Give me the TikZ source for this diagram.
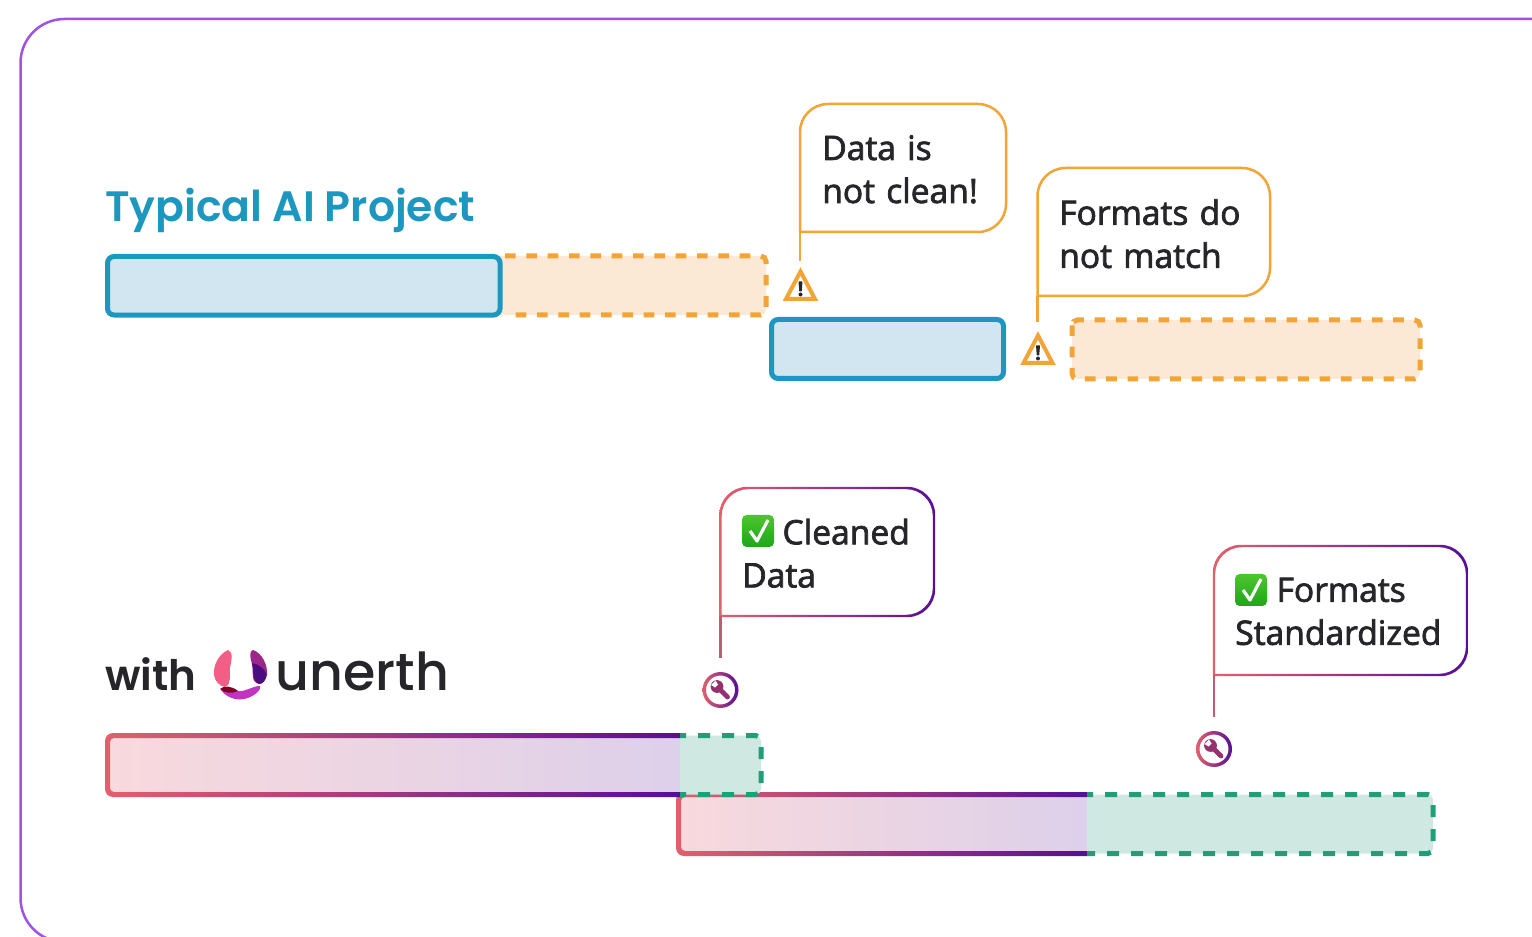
\documentclass[tikz,border=0pt]{standalone}
\usepackage{fontspec}
\setmainfont{Open Sans}[FakeBold=2.2]
\IfFontExistsTF{Poppins SemiBold}{\newfontfamily\titlefont{Poppins SemiBold}}{\newfontfamily\titlefont{Poppins}[UprightFont=*,FakeBold=1]}
\IfFontExistsTF{Poppins Medium}{\newfontfamily\logofont{Poppins Medium}}{\newfontfamily\logofont{Poppins}[FakeBold=0.5]}
\usetikzlibrary{calc}
\definecolor{cblue}{HTML}{1D97BF}
\definecolor{cbluef}{HTML}{D1E6F0}
\definecolor{corange}{HTML}{F2A437}
\definecolor{corangef}{HTML}{FBE9D5}
\definecolor{cgreen}{HTML}{1F9E78}
\definecolor{cgreenf}{HTML}{CFE8E1}
\definecolor{cred}{HTML}{E2606C}
\definecolor{cpurple}{HTML}{560F96}
\definecolor{cpinkf}{HTML}{F8D9DD}
\definecolor{clavf}{HTML}{DDD0EA}
\definecolor{cink}{HTML}{26262A}
\definecolor{cframe}{HTML}{A052E2}
\definecolor{cwrench}{HTML}{96306E}
\definecolor{cstem}{HTML}{C25A72}
\definecolor{ccheckt}{HTML}{4CC62E}
\definecolor{ccheckb}{HTML}{1FA51C}
\tikzset{
  px/.style={line width=#1*0.75pt},
  bluebar/.style={draw=cblue,fill=cbluef,px=5,rounded corners=5pt,inner sep=0pt,outer sep=0pt,anchor=north west},
  orangedash/.style={draw=corange,px=5,dash pattern=on 8pt off 8pt,rounded corners=4pt},
  greendash/.style={draw=cgreen,px=5,dash pattern=on 9pt off 9pt,dash phase=4.5pt,rounded corners=4pt},
  calloutbox/.style={anchor=north west,inner sep=0pt,text width=#1,align=left,font=\fontsize{25.2}{32.3}\selectfont,text=cink},
  stemor/.style={draw=corange,px=2.5},
  stemgr/.style={draw=cstem,px=2.5},
  ringshade/.style={left color=cred,right color=cpurple,even odd rule,draw=none},
  wrenchnode/.style={circle,inner sep=0pt,minimum size=24pt},
}
\newcommand\warnicon[2]{%
  \draw[draw=corange,px=4,line join=miter,fill=white] (#1,#2-16.5) -- (#1+14.5,#2+11) -- (#1-14.5,#2+11) -- cycle;
  \fill[cink,rounded corners=0.3pt] (#1-2,#2-6.5) -- (#1+2,#2-6.5) -- (#1+1.2,#2+3.5) -- (#1-1.2,#2+3.5) -- cycle;
  \fill[cink] (#1,#2+6.5) circle (2*0.75pt);
}
\newcommand\wrenchicon[2]{%
  \shade[ringshade] (#1,#2) circle (18*0.75pt) (#1,#2) circle (14.5*0.75pt);
  \begin{scope}[shift={(#1,#2)}]
    \draw[cwrench,line width=3.6pt,line cap=round] (-2.5,-2.5) -- (7,7);
    \fill[cwrench] (-3.5,-3.5) circle (4.8pt);
    \fill[white] (-9.5,-5) -- (-5.5,-2.5) -- (-2.5,-5.5) -- (-5,-9.5) -- cycle;
  \end{scope}
}
\newcommand\checkicon[2]{%
  \shade[top color=ccheckt,bottom color=ccheckb,rounded corners=3.5pt] (#1,#2) rectangle (#1+32,#2+32);
  \draw[white,px=3.2,line join=round] (#1+8,#2+16) -- (#1+15,#2+26) -- (#1+26,#2+5);
}
\newcommand\gradcallout[4]{%
  \shade[ringshade]
    [rounded corners=21pt] (#1-1.2,#4+1.2) -- (#1-1.2,#2-1.2) -- (#3+1.2,#2-1.2) -- (#3+1.2,#4+1.2) -- (#1-1.2,#4+1.2)
    [rounded corners=20pt] (#1+1.2,#4-1.2) -- (#1+1.2,#2+1.2) -- (#3-1.2,#2+1.2) -- (#3-1.2,#4-1.2) -- (#1+1.2,#4-1.2);
}
\newcommand\gradbar[4]{%
  \shade[left color=cpinkf,right color=clavf,rounded corners=3pt] (#3,#2-1) -- (#1-1,#2-1) -- (#1-1,#4+1) -- (#3,#4+1);
  \shade[ringshade]
    [rounded corners=6pt] (#3,#2-5) -- (#1-5,#2-5) -- (#1-5,#4+5) -- (#3,#4+5)
    [rounded corners=3pt] (#3,#4) -- (#1,#4) -- (#1,#2) -- (#3,#2);
}
\begin{document}
\begin{tikzpicture}[x=0.75pt,y=-0.75pt]
\useasboundingbox (0,0) rectangle (1532,937);
\fill[white] (0,0) rectangle (1532,937);
\draw[cframe,px=2.5,rounded corners=33pt] (1532,19) -- (20.5,19) -- (20.5,942) -- (1532,942);

\node[anchor=base west,inner sep=0pt,text=cblue,font=\titlefont\fontsize{31.9}{36}\selectfont] (title) at (105,221.5) {Typical AI Project};
\fill[corangef,rounded corners=4pt] (500,256) -- (766,256) -- (766,315) -- (500,315);
\draw[orangedash] (505,256) -- (766,256) -- (766,315) -- (505,315);
\node[bluebar,minimum width=294.4pt,minimum height=43.9pt] (b1) at (107.5,256.5) {};
\fill[corangef,rounded corners=5pt] (1072,320) rectangle (1420,379);
\draw[orangedash] (1072,320) rectangle (1420,379);
\node[bluebar,minimum width=174pt,minimum height=44.25pt] (b2) at (771.5,319.5) {};

\node[calloutbox=150pt] (c1) at (822,135) {Data is\\not clean!};
\node[calloutbox=170pt] (c2) at (1059,199) {Formats do\\not match};
\coordinate (c1sw) at (800,232);
\coordinate (c2sw) at (1037.5,296);
\coordinate (w1) at (800,268);
\coordinate (w2) at (1037.5,328.5);
\draw[stemor,rounded corners=21pt] (c1sw) -- (800,104) -- (1006,104) -- (1006,232) -- (c1sw);
\draw[stemor,rounded corners=21pt] (c2sw) -- (1037.5,168) -- (1270,168) -- (1270,296) -- (c2sw);
\draw[stemor,shorten >=5pt] (c1sw) -- (w1);
\draw[stemor,shorten >=5pt] (c2sw) -- (w2);
\warnicon{800.5}{288}
\warnicon{1038}{352}

\node[anchor=base west,inner sep=0pt,text=cink,font=\titlefont\fontsize{31.5}{36}\selectfont] (with) at (105,690) {with};
\node[anchor=base west,inner sep=0pt,text=cink,font=\logofont\fontsize{39.2}{42}\selectfont] (unerth) at (275.5,690) {unerth};
\fill[magenta!55!red!65!white] (228,650) .. controls (219,654) and (213,665) .. (214,675) .. controls (215,682) and (220,686) .. (225,687) .. controls (232,684) and (229,676) .. (230,668) .. controls (231,662) and (234,652) .. (228,650) -- cycle;
\fill[violet!80!purple!85!white] (253,650) .. controls (262,653) and (268,665) .. (267,675) .. controls (266,680) and (263,684) .. (259,684) .. controls (250,682) and (254,672) .. (252,664) .. controls (250,658) and (249,651) .. (253,650) -- cycle;
\fill[cpurple!85!black] (252,663) .. controls (258,664) and (264,668) .. (266.5,674) .. controls (266,680) and (263,684) .. (259,684) .. controls (252,681) and (254,672) .. (252,663) -- cycle;
\fill[violet!60!magenta!80!white] (238,691) .. controls (246,692) and (252,686) .. (260,686) .. controls (262,690) and (252,699) .. (240,699.5) .. controls (232,699.5) and (224,695) .. (221,690) .. controls (226,690) and (232,690) .. (238,691) -- cycle;
\fill[red!40!black!85!magenta] (220,689) .. controls (224,685) and (232,686) .. (238,691) .. controls (232,694) and (224,693) .. (220,689) -- cycle;

\gradbar{681}{797}{1087}{851}
\gradbar{110}{738}{681}{792}
\fill[cgreenf,rounded corners=4pt] (680,735.5) -- (761,735.5) -- (761,794.5) -- (680,794.5);
\draw[greendash] (680,735.5) -- (761,735.5) -- (761,794.5) -- (680,794.5);
\fill[cgreenf,rounded corners=4pt] (1087,794.5) -- (1433,794.5) -- (1433,853.5) -- (1087,853.5);
\draw[greendash] (1087,794.5) -- (1433,794.5) -- (1433,853.5) -- (1087,853.5);

\node[calloutbox=200pt] (c3) at (742,518.5) {\hspace*{30.2pt}Cleaned\\Data};
\node[calloutbox=200pt] (c4) at (1235,577.5) {\hspace*{31pt}Formats\\Standardized};
\gradcallout{720.5}{488}{934}{616}
\gradcallout{1214}{546}{1467}{675}
\coordinate (c3sw) at (720.5,616);
\coordinate (c4sw) at (1214,675);
\node[wrenchnode] (w3) at (720.5,690) {};
\node[wrenchnode] (w4) at (1214,749) {};
\draw[stemgr,shorten >=12pt] (c3sw) -- (w3.north);
\draw[stemgr,shorten >=12pt] (c4sw) -- (w4.north);
\wrenchicon{720.5}{690}
\wrenchicon{1214}{749}
\checkicon{742}{515}
\checkicon{1235}{574}
\end{tikzpicture}
\end{document}
